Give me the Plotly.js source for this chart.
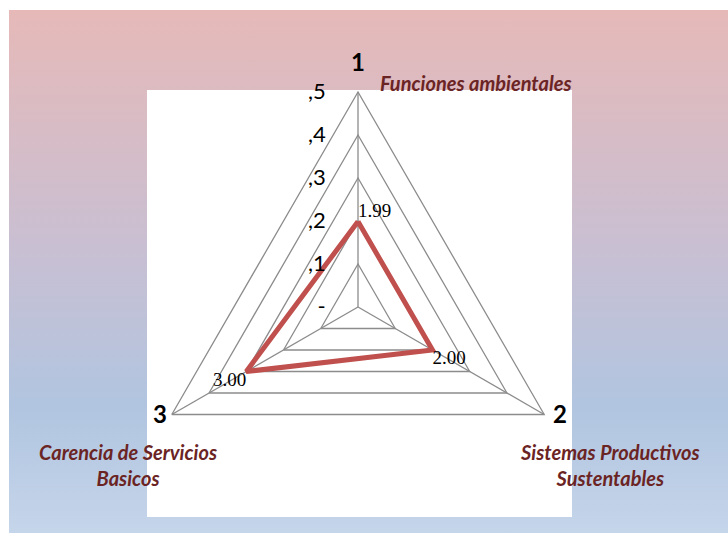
<!DOCTYPE html>
<html>
<head>
<meta charset="utf-8">
<script src="https://cdn.plot.ly/plotly-3.0.1.min.js"></script>
<style>
  body { margin: 0; background: #fff; }
  #bg {
    position: absolute; left: 9px; top: 10px; width: 719px; height: 523px;
    background: linear-gradient(to bottom, #e6b9b8 0%, #c9bfd2 45%, #b1c5e0 76%, #c5d5ea 100%);
  }
  #chart { position: absolute; left: 0; top: 0; width: 728px; height: 533px; }
</style>
</head>
<body>
<div id="bg"></div>
<div id="chart"></div>
<script>
// ejes del radar
const categories = ['1', '2', '3'];
const categoryNames = ['Funciones ambientales', 'Sistemas Productivos<br>Sustentables', 'Carencia de Servicios<br>Basicos'];
const values = [1.99, 2.00, 3.00];
const valueLabels = ['1.99', '2.00', '3.00'];
const radialTicks = [0, 1, 2, 3, 4, 5];
const radialTickText = ['-', ',1', ',2', ',3', ',4', ',5'];

const gridColor = '#8c8c8c';
const nameFont = { family: 'Lato, sans-serif', size: 20, color: '#6b2424', weight: 'bold', style: 'italic' };
const numFont = { family: 'Lato, sans-serif', size: 24, color: '#000', weight: 'bold' };

// cerrar el poligono repitiendo el primer punto
const trace = {
  type: 'scatterpolar',
  r: values.concat([values[0]]),
  theta: categories.concat([categories[0]]),
  mode: 'lines+text',
  text: valueLabels.concat(['']),
  textposition: ['top right', 'bottom right', 'bottom left', 'top right'],
  textfont: { family: 'Liberation Serif, serif', size: 19, color: '#000' },
  line: { color: '#c0504d', width: 5 },
  hoverinfo: 'skip',
  showlegend: false
};

const layout = {
  width: 728,
  height: 533,
  margin: { l: 0, r: 0, t: 0, b: 0 },
  paper_bgcolor: 'rgba(0,0,0,0)',
  plot_bgcolor: 'rgba(0,0,0,0)',
  showlegend: false,
  shapes: [
    // recuadro blanco del area de trazado
    { type: 'rect', xref: 'paper', yref: 'paper', x0: 147 / 728, x1: 572 / 728, y0: 1 - 517 / 533, y1: 1 - 90 / 533,
      fillcolor: '#ffffff', line: { width: 0 }, layer: 'below' }
  ],
  polar: {
    domain: { x: [143 / 728, 573 / 728], y: [1 - 522 / 533, 1 - 92 / 533] },
    gridshape: 'linear',
    bgcolor: 'rgba(0,0,0,0)',
    radialaxis: {
      range: [0, 5],
      angle: 90,
      tickangle: 90,
      tickvals: radialTicks,
      ticktext: radialTickText,
      showline: false,
      gridcolor: gridColor,
      gridwidth: 1.3,
      ticks: 'outside',
      ticklen: 24,
      tickcolor: 'rgba(0,0,0,0)',
      side: 'counterclockwise',
      tickfont: { family: 'Lato, sans-serif', size: 22, color: '#000' }
    },
    angularaxis: {
      type: 'category',
      categoryarray: categories,
      direction: 'clockwise',
      rotation: 90,
      showticklabels: false,
      ticks: '',
      gridcolor: gridColor,
      gridwidth: 1.3,
      showline: true,
      linecolor: gridColor,
      linewidth: 1.3
    }
  },
  annotations: [
    { text: categories[0], x: 358 / 728, y: 1 - 62 / 533, font: numFont },
    { text: categories[1], x: 560 / 728, y: 1 - 413 / 533, font: numFont },
    { text: categories[2], x: 160 / 728, y: 1 - 413 / 533, font: numFont },
    { text: categoryNames[0], x: 476 / 728, y: 1 - 83 / 533, font: nameFont },
    { text: categoryNames[1], x: 610 / 728, y: 1 - 465 / 533, font: nameFont },
    { text: categoryNames[2], x: 128 / 728, y: 1 - 465 / 533, font: nameFont }
  ].map(a => Object.assign({ xref: 'paper', yref: 'paper', showarrow: false, xanchor: 'center', yanchor: 'middle' }, a))
};

Plotly.newPlot('chart', [trace], layout, { displayModeBar: false, staticPlot: true });
</script>
</body>
</html>
